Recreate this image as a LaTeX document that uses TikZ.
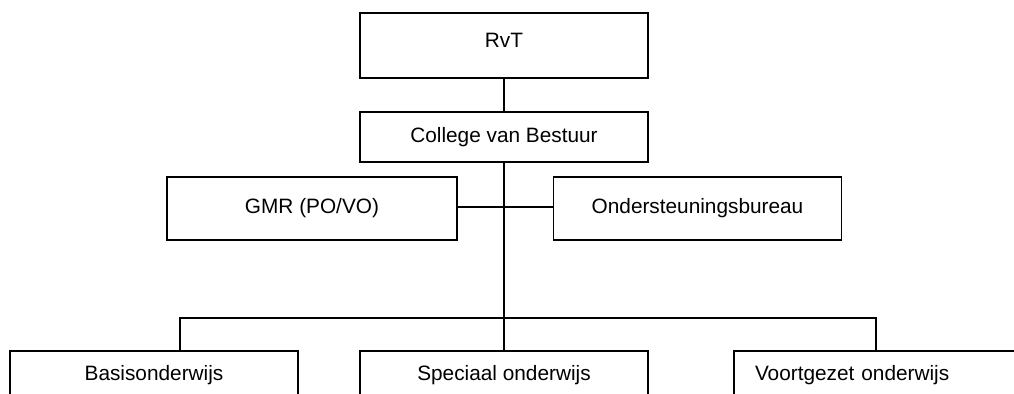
\documentclass[tikz,border=0pt]{standalone}
\usepackage{fontspec}
\setmainfont{Liberation Sans}
\usepackage{tikz}

\begin{document}
\begin{tikzpicture}[x=0.5pt,y=-0.5pt,
    box/.style={draw,line width=0.9pt,minimum width=144pt,inner sep=0pt,font=\fontsize{10.4}{12}\selectfont},
    link/.style={line width=0.9pt}]
  \useasboundingbox (0,0) rectangle (1014,394);
  \clip (0,0) rectangle (1014,394);
  % top of the tree
  \node[box,minimum height=32.5pt,text depth=5pt] (rvt) at (504,45.5) {RvT};
  \node[box,minimum height=25pt] (cvb) at (504,137) {College van Bestuur};
  \node[box,minimum width=145pt,minimum height=31.5pt,text depth=3pt] (gmr) at (312,208.5) {GMR (PO/VO)};
  \node[box,minimum height=31.5pt,text depth=3pt] (ond) at (697.5,208.5) {Ondersteuningsbureau};
  % schools
  \node[box,minimum height=24pt] (basis) at (154,375) {Basisonderwijs};
  \node[box,minimum height=24pt] (so) at (504,375) {Speciaal onderwijs};
  \node[box,minimum height=24pt,text width=123pt,inner xsep=10.5pt,align=left] (vo) at (878,375) {Voortgezet onderwijs};
  \coordinate (busl) at (180,318);
  \coordinate (busr) at (876,318);
  \draw[link] (rvt) -- (cvb);
  \draw[link] (cvb) -- (so);
  \draw[link] (gmr.east |- 0,207) -- (ond.west |- 0,207);
  \draw[link] (busl |- basis.north) -- (busl) -- (busr) -- (busr |- vo.north);
\end{tikzpicture}
\end{document}
